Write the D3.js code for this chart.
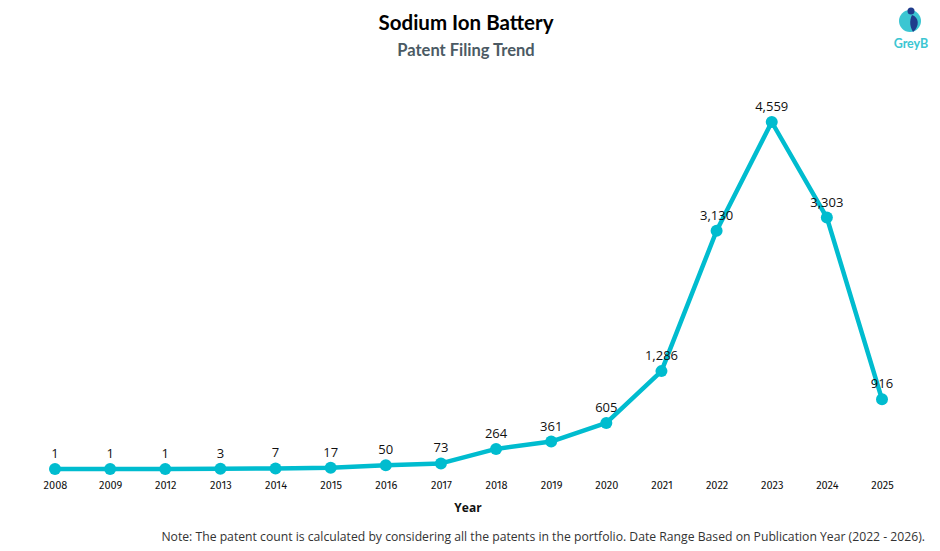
<!DOCTYPE html>
<html lang="en">
<head>
<meta charset="UTF-8">
<title>Sodium Ion Battery</title>
<style>
  body { margin: 0; background: #fff; }
  svg { display: block; }
</style>
</head>
<body>
<div class="container"></div>
<script src="https://cdn.jsdelivr.net/npm/d3@7/dist/d3.min.js"></script>
<script>
  const years = ["2008","2009","2012","2013","2014","2015","2016","2017","2018","2019","2020","2021","2022","2023","2024","2025"]
  const counts = [1,1,1,3,7,17,50,73,264,361,605,1286,3130,4559,3303,916]

  const width = 940, height = 551
  const teal = "#00bccf"

  const svg = d3.select(".container").append("svg")
    .attr("width", width).attr("height", height)

  // titles
  svg.append("text").attr("x", 466).attr("y", 30).attr("text-anchor", "middle")
    .attr("font-family", "Lato").attr("font-weight", 700).attr("font-size", 20.5)
    .attr("fill", "#000").text("Sodium Ion Battery")
  svg.append("text").attr("x", 466).attr("y", 56).attr("text-anchor", "middle")
    .attr("font-family", "Lato").attr("font-weight", 700).attr("font-size", 16.5)
    .attr("fill", "#4b5a64").text("Patent Filing Trend")

  // logo
  const logo = svg.append("g").attr("transform", "translate(910,21)")
  logo.append("circle").attr("r", 11).attr("fill", "#3cc6d2")
  logo.append("path").attr("d", "M2,-6 C9,-4 10,5 3,11 C0,6 -1,0 2,-6 Z").attr("fill", "#1f3c8c")
  logo.append("circle").attr("cx", 1).attr("cy", -10).attr("r", 3.5).attr("fill", "#1f3c8c")
  svg.append("text").attr("x", 911).attr("y", 48).attr("text-anchor", "middle")
    .attr("font-family", "Lato").attr("font-weight", 700).attr("font-size", 12.5)
    .attr("fill", "#3cc6d2").text("GreyB")

  const x = d3.scalePoint().domain(years).range([55, 882])
  const y = d3.scaleLinear().domain([0, 4559]).range([469, 122])

  // x axis labels
  const xAxis = svg.append("g").attr("transform", "translate(0,475)")
    .call(d3.axisBottom(x).tickSize(0).tickPadding(6))
  xAxis.select(".domain").remove()
  xAxis.selectAll("text").attr("font-family", "Fira Sans, Open Sans").attr("font-size", 11).attr("fill", "#111")

  svg.append("text").attr("x", 468).attr("y", 512).attr("text-anchor", "middle")
    .attr("font-family", "Open Sans").attr("font-weight", 700).attr("font-size", 12)
    .attr("fill", "#111").text("Year")

  const pts = years.map((yr, i) => ({ yr, v: counts[i] }))

  svg.append("path").datum(pts)
    .attr("fill", "none").attr("stroke", teal).attr("stroke-width", 4.5)
    .attr("stroke-linejoin", "round")
    .attr("d", d3.line().x(d => x(d.yr)).y(d => y(d.v)))

  svg.selectAll("circle.pt").data(pts).join("circle")
    .attr("class", "pt")
    .attr("cx", d => x(d.yr)).attr("cy", d => y(d.v)).attr("r", 6)
    .attr("fill", teal)

  svg.selectAll("text.lbl").data(pts).join("text")
    .attr("class", "lbl")
    .attr("x", d => x(d.yr)).attr("y", d => y(d.v) - 11)
    .attr("text-anchor", "middle")
    .attr("font-family", "Open Sans").attr("font-size", 13).attr("font-weight", 500).attr("fill", "#111")
    .text(d => d3.format(",")(d.v))

  svg.append("text").attr("x", 925).attr("y", 541).attr("text-anchor", "end")
    .attr("font-family", "Open Sans").attr("font-size", 12.2).attr("fill", "#333")
    .text("Note: The patent count is calculated by considering all the patents in the portfolio. Date Range Based on Publication Year (2022 - 2026).")
</script>
</body>
</html>
